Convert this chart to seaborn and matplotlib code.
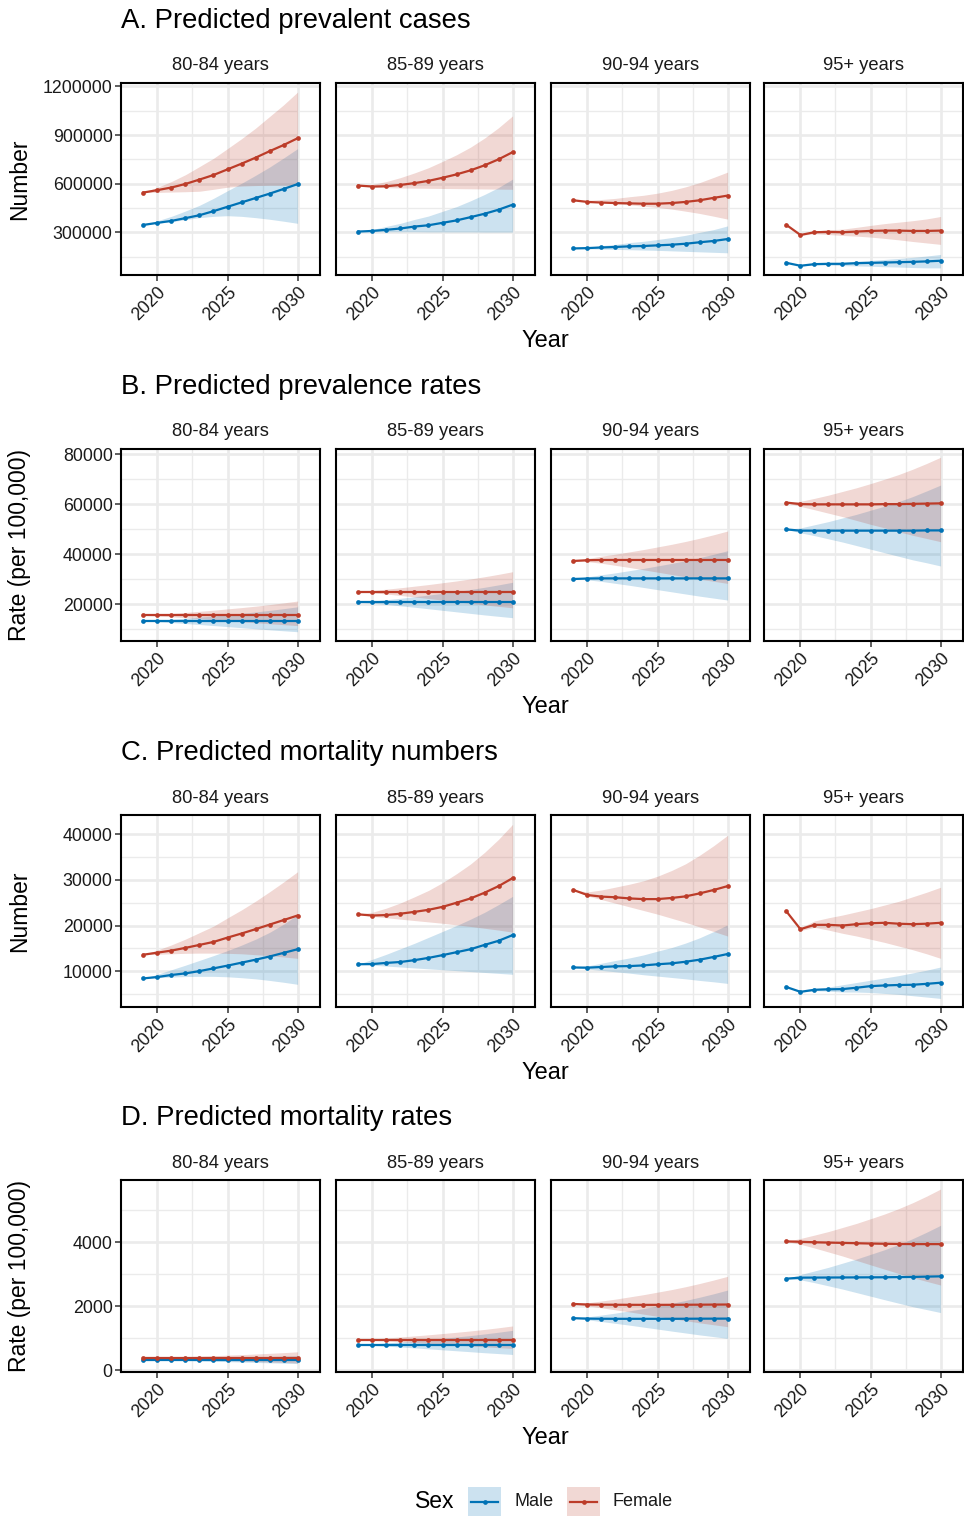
import numpy as np
import pandas as pd
import matplotlib
matplotlib.use("Agg")
import matplotlib.pyplot as plt
import seaborn as sns
from matplotlib.patches import Rectangle
from matplotlib.lines import Line2D

nan = float("nan")

YEARS = [2019, 2020, 2021, 2022, 2023, 2024, 2025, 2026, 2027, 2028, 2029, 2030]
AGES = ["80-84 years", "85-89 years", "90-94 years", "95+ years"]
SEXES = ["Male", "Female"]
PALETTE = {"Male": "#0072B5", "Female": "#BC3C29"}

ROW_TITLES = ["A. Predicted prevalent cases", "B. Predicted prevalence rates",
              "C. Predicted mortality numbers", "D. Predicted mortality rates"]
Y_TITLES = ["Number", "Rate (per 100,000)", "Number", "Rate (per 100,000)"]
Y_TICKS = [[300000, 600000, 900000, 1200000], [20000, 40000, 60000, 80000],
           [10000, 20000, 30000, 40000], [0, 2000, 4000]]
Y_MINOR = [[150000, 450000, 750000, 1050000], [10000, 30000, 50000, 70000],
           [5000, 15000, 25000, 35000], [1000, 3000, 5000]]
Y_LIMS = [(36000, 1221000), (5350, 82000), (2120, 44260), (-54, 5953)]
X_TICKS = [2020, 2025, 2030]
X_MINOR = [2022.5, 2027.5]
# row A values are given in thousands
ROW_SCALE = [1000, 1, 1, 1]

# ---------------- A. Predicted prevalent cases (thousands) ----------------
A80_M = [345, 358, 370, 387, 405, 430, 457, 484, 511, 538, 567, 597]
A80_M_lo = [345, 355, 365, 378, 390, 398, 402, 398, 390, 380, 368, 355]
A80_M_hi = [345, 371, 398, 431, 466, 509, 556, 602, 651, 702, 758, 816]
A80_F = [545, 560, 576, 598, 625, 653, 688, 723, 760, 800, 838, 880]
A80_F_lo = [545, 546, 548, 550, 553, 565, 578, 585, 588, 590, 590, 590]
A80_F_hi = [545, 577, 613, 655, 705, 756, 816, 877, 942, 1014, 1086, 1165]

A85_M = [304, 308, 315, 323, 335, 343, 358, 373, 393, 414, 439, 470]
A85_M_lo = [304, 303, 303, 303, 303, 302, 302, 302, 302, 301, 301, 301]
A85_M_hi = [304, 317, 336, 355, 379, 400, 429, 458, 494, 533, 576, 628]
A85_F = [588, 582, 584, 592, 603, 617, 636, 657, 682, 713, 750, 794]
A85_F_lo = [588, 578, 575, 573, 572, 571, 570, 569, 568, 567, 566, 565]
A85_F_hi = [588, 595, 613, 637, 666, 698, 737, 778, 825, 881, 945, 1018]

A90_M = [200, 202, 206, 209, 213, 215, 219, 223, 229, 238, 246, 258]
A90_M_lo = [200, 198, 196, 194, 192, 190, 188, 185, 182, 179, 176, 173]
A90_M_hi = [200, 207, 217, 225, 236, 244, 255, 267, 281, 299, 316, 339]
A90_F = [497, 487, 483, 480, 478, 476, 476, 480, 487, 497, 512, 526]
A90_F_lo = [497, 490, 483, 476, 469, 461, 453, 443, 430, 416, 399, 381]
A90_F_hi = [497, 496, 502, 509, 519, 528, 541, 558, 580, 606, 638, 671]

A95_M = [111, 93, 103, 105, 105, 109, 111, 113, 115, 117, 120, 124]
A95_M_lo = [nan, 92, 99, 97, 94, 92, 90, 87, 85, 82, 80, 80]
A95_M_hi = [nan, 94, 106, 111, 114, 121, 126, 132, 138, 145, 153, 163]
A95_F = [345, 283, 300, 302, 300, 304, 308, 310, 310, 308, 308, 310]
A95_F_lo = [nan, 280, 291, 286, 280, 276, 270, 262, 253, 243, 234, 225]
A95_F_hi = [nan, 286, 307, 315, 319, 330, 342, 353, 362, 371, 382, 397]

# ---------------- B. Predicted prevalence rates ----------------
B80_M = [13300, 13300, 13300, 13300, 13300, 13300, 13300, 13300, 13300, 13300, 13300, 13300]
B80_M_lo = [13300, 13050, 12710, 12320, 11940, 11520, 11090, 10670, 10240, 9820, 9430, 9050]
B80_M_hi = [13300, 13640, 14040, 14440, 14900, 15350, 15870, 16380, 16950, 17580, 18260, 19000]
B80_F = [15600, 15600, 15600, 15600, 15600, 15600, 15600, 15600, 15600, 15600, 15600, 15600]
B80_F_lo = [15600, 15350, 15030, 14660, 14290, 13880, 13470, 13060, 12650, 12240, 11870, 11500]
B80_F_hi = [15600, 15940, 16340, 16740, 17200, 17650, 18170, 18680, 19250, 19880, 20560, 21300]

B85_M = [20800, 20800, 20800, 20800, 20800, 20800, 20800, 20800, 20800, 20800, 20800, 20800]
B85_M_lo = [20800, 20430, 19940, 19390, 18830, 18220, 17600, 16990, 16370, 15760, 15200, 14650]
B85_M_hi = [20800, 21280, 21840, 22400, 23040, 23680, 24400, 25120, 25920, 26800, 27760, 28800]
B85_F = [25000, 25000, 25000, 25000, 25000, 25000, 25000, 25000, 25000, 25000, 25000, 25000]
B85_F_lo = [25000, 24620, 24100, 23530, 22950, 22310, 21670, 21030, 20390, 19750, 19180, 18600]
B85_F_hi = [25000, 25480, 26040, 26600, 27240, 27880, 28600, 29320, 30120, 31000, 31960, 33000]

B90_M = [30100, 30300, 30350, 30350, 30350, 30350, 30350, 30350, 30350, 30350, 30350, 30350]
B90_M_lo = [30100, 29780, 29140, 28360, 27580, 26720, 25850, 24990, 24120, 23260, 22480, 21700]
B90_M_hi = [30100, 30960, 31790, 32560, 33440, 34330, 35320, 36320, 37420, 38640, 39960, 41400]
B90_F = [37300, 37600, 37700, 37700, 37700, 37700, 37700, 37700, 37700, 37700, 37700, 37700]
B90_F_lo = [37300, 37040, 36390, 35550, 34710, 33770, 32840, 31900, 30970, 30030, 29190, 28350]
B90_F_hi = [37300, 38290, 39200, 40010, 40930, 41860, 42900, 43940, 45090, 46360, 47750, 49250]

B95_M = [49900, 49400, 49400, 49400, 49400, 49400, 49400, 49400, 49400, 49400, 49500, 49500]
B95_M_lo = [49900, 48550, 47410, 46130, 44860, 43440, 42020, 40600, 39180, 37760, 36580, 35300]
B95_M_hi = [49900, 50490, 51750, 53020, 54470, 55920, 57550, 59170, 60980, 62980, 65250, 67600]
B95_F = [60600, 60000, 59900, 59900, 59900, 59900, 59900, 60000, 60000, 60100, 60200, 60300]
B95_F_lo = [60600, 59080, 57760, 56380, 55000, 53470, 51940, 50510, 48980, 47550, 46280, 45000]
B95_F_hi = [60600, 61100, 62290, 63580, 65050, 66520, 68180, 69940, 71780, 73900, 76210, 78700]

# ---------------- C. Predicted mortality numbers ----------------
C80_M = [8400, 8700, 9150, 9500, 10000, 10600, 11200, 11850, 12500, 13200, 14000, 14800]
C80_M_lo = [8400, 8550, 8700, 8800, 8850, 8850, 8750, 8550, 8300, 7950, 7550, 7100]
C80_M_hi = [8400, 9300, 10300, 11300, 12350, 13400, 14500, 15700, 17000, 18500, 20300, 22360]
C80_F = [13600, 14050, 14500, 15100, 15750, 16400, 17350, 18250, 19200, 20200, 21200, 22200]
C80_F_lo = [13600, 13700, 13800, 13900, 13950, 13950, 13900, 13800, 13600, 13400, 13100, 12800]
C80_F_hi = [13600, 14630, 15750, 17020, 18440, 19860, 21670, 23430, 25340, 27400, 29550, 31800]

C85_M = [11500, 11550, 11800, 12000, 12400, 12900, 13500, 14150, 14800, 15750, 16650, 17900]
C85_M_lo = [11500, 11300, 11100, 10900, 10700, 10500, 10300, 10100, 9900, 9700, 9500, 9300]
C85_M_hi = [11500, 12600, 13700, 14900, 16100, 17400, 18700, 20000, 21400, 22900, 24600, 26400]
C85_F = [22450, 22200, 22300, 22600, 23000, 23450, 24100, 25000, 25950, 27200, 28650, 30400]
C85_F_lo = [22450, 22000, 21700, 21400, 21100, 20800, 20500, 20150, 19800, 19400, 19000, 18550]
C85_F_hi = [22450, 22910, 23830, 24960, 26300, 27700, 29410, 31370, 33500, 36050, 38920, 42200]

C90_M = [10800, 10750, 10900, 11050, 11100, 11250, 11500, 11700, 12050, 12500, 13100, 13750]
C90_M_lo = [10800, 10450, 10150, 9850, 9550, 9200, 8900, 8600, 8300, 7950, 7650, 7300]
C90_M_hi = [10800, 11130, 11730, 12330, 12890, 13550, 14380, 15160, 16150, 17300, 18670, 20150]
C90_F = [27800, 26700, 26350, 26200, 25950, 25800, 25800, 26050, 26400, 27050, 27800, 28650]
C90_F_lo = [27800, 26500, 25700, 24900, 24100, 23300, 22500, 21600, 20700, 19700, 18700, 17700]
C90_F_hi = [27800, 27370, 27800, 28430, 29070, 29810, 30820, 32070, 33540, 35410, 37500, 39800]

C95_M = [6500, 5450, 5900, 6000, 6050, 6350, 6700, 6850, 6950, 7000, 7200, 7450]
C95_M_lo = [nan, 5350, 5700, 5600, 5400, 5400, 5300, 5100, 4900, 4600, 4300, 4000]
C95_M_hi = [nan, 5550, 6100, 6500, 7000, 7500, 8000, 8500, 9000, 9600, 10200, 10900]
C95_F = [23100, 19200, 20150, 20150, 20000, 20300, 20500, 20600, 20400, 20300, 20400, 20600]
C95_F_lo = [nan, 18900, 19600, 19000, 18300, 17700, 17000, 16300, 15500, 14700, 13800, 12800]
C95_F_hi = [nan, 19500, 21000, 21700, 22300, 23000, 23700, 24500, 25300, 26300, 27300, 28400]

# ---------------- D. Predicted mortality rates ----------------
D80_M = [336, 336, 336, 336, 336, 336, 336, 336, 336, 336, 336, 336]
D80_M_lo = [336, 328, 318, 307, 296, 283, 270, 258, 245, 233, 221, 210]
D80_M_hi = [336, 343, 352, 361, 371, 381, 392, 403, 415, 429, 444, 460]
D80_F = [387, 387, 387, 387, 387, 387, 387, 387, 387, 387, 387, 387]
D80_F_lo = [387, 378, 365, 351, 337, 321, 305, 290, 274, 258, 244, 230]
D80_F_hi = [387, 398, 412, 425, 440, 455, 473, 490, 509, 530, 552, 577]

D85_M = [797, 797, 797, 797, 797, 797, 797, 797, 797, 797, 797, 797]
D85_M_lo = [797, 779, 755, 728, 700, 670, 640, 610, 580, 549, 522, 495]
D85_M_hi = [797, 824, 856, 888, 924, 960, 1001, 1042, 1087, 1137, 1191, 1250]
D85_F = [955, 955, 955, 955, 955, 955, 955, 955, 955, 955, 955, 955]
D85_F_lo = [955, 939, 917, 893, 868, 841, 814, 787, 760, 733, 708, 684]
D85_F_hi = [955, 981, 1011, 1041, 1076, 1110, 1149, 1188, 1231, 1278, 1330, 1386]

D90_M = [1630, 1616, 1612, 1610, 1610, 1610, 1610, 1610, 1612, 1614, 1615, 1616]
D90_M_lo = [1630, 1579, 1525, 1468, 1412, 1350, 1289, 1227, 1167, 1107, 1053, 998]
D90_M_hi = [1630, 1670, 1728, 1789, 1860, 1932, 2012, 2093, 2184, 2285, 2393, 2510]
D90_F = [2075, 2057, 2052, 2050, 2048, 2047, 2047, 2048, 2050, 2052, 2055, 2057]
D90_F_lo = [2075, 2015, 1955, 1891, 1826, 1756, 1687, 1618, 1551, 1484, 1424, 1364]
D90_F_hi = [2075, 2110, 2167, 2226, 2295, 2365, 2444, 2524, 2614, 2714, 2822, 2939]

D95_M = [2866, 2898, 2900, 2902, 2904, 2906, 2908, 2910, 2915, 2920, 2930, 2939]
D95_M_lo = [2866, 2830, 2741, 2641, 2541, 2430, 2319, 2208, 2099, 1991, 1899, 1806]
D95_M_hi = [2866, 2994, 3107, 3221, 3351, 3481, 3626, 3772, 3936, 4117, 4319, 4535]
D95_F = [4032, 4020, 4005, 3995, 3985, 3975, 3965, 3958, 3952, 3948, 3947, 3947]
D95_F_lo = [4032, 3943, 3826, 3701, 3575, 3437, 3299, 3164, 3030, 2898, 2782, 2667]
D95_F_hi = [4032, 4123, 4229, 4340, 4467, 4595, 4740, 4888, 5055, 5240, 5446, 5670]

SERIES = {
    0: [(A80_M, A80_M_lo, A80_M_hi, A80_F, A80_F_lo, A80_F_hi),
        (A85_M, A85_M_lo, A85_M_hi, A85_F, A85_F_lo, A85_F_hi),
        (A90_M, A90_M_lo, A90_M_hi, A90_F, A90_F_lo, A90_F_hi),
        (A95_M, A95_M_lo, A95_M_hi, A95_F, A95_F_lo, A95_F_hi)],
    1: [(B80_M, B80_M_lo, B80_M_hi, B80_F, B80_F_lo, B80_F_hi),
        (B85_M, B85_M_lo, B85_M_hi, B85_F, B85_F_lo, B85_F_hi),
        (B90_M, B90_M_lo, B90_M_hi, B90_F, B90_F_lo, B90_F_hi),
        (B95_M, B95_M_lo, B95_M_hi, B95_F, B95_F_lo, B95_F_hi)],
    2: [(C80_M, C80_M_lo, C80_M_hi, C80_F, C80_F_lo, C80_F_hi),
        (C85_M, C85_M_lo, C85_M_hi, C85_F, C85_F_lo, C85_F_hi),
        (C90_M, C90_M_lo, C90_M_hi, C90_F, C90_F_lo, C90_F_hi),
        (C95_M, C95_M_lo, C95_M_hi, C95_F, C95_F_lo, C95_F_hi)],
    3: [(D80_M, D80_M_lo, D80_M_hi, D80_F, D80_F_lo, D80_F_hi),
        (D85_M, D85_M_lo, D85_M_hi, D85_F, D85_F_lo, D85_F_hi),
        (D90_M, D90_M_lo, D90_M_hi, D90_F, D90_F_lo, D90_F_hi),
        (D95_M, D95_M_lo, D95_M_hi, D95_F, D95_F_lo, D95_F_hi)],
}

# ---------------- layout ----------------
plt.rcParams["font.family"] = ["Liberation Sans", "DejaVu Sans"]
W, H = 964, 1516
fig = plt.figure(figsize=(W / 100, H / 100), dpi=100)
fig.patch.set_facecolor("white")

PANEL_LEFTS = [121, 336, 551, 764]
PANEL_W, PANEL_H = 199, 192
ROW_TOPS = [83, 449, 815, 1180]
TXT = "#1A1A1A"


def rect(left, top, w, h):
    return [left / W, 1 - (top + h) / H, w / W, h / H]


for r in range(4):
    top = ROW_TOPS[r]
    s = ROW_SCALE[r]
    for c in range(4):
        ax = fig.add_axes(rect(PANEL_LEFTS[c], top, PANEL_W, PANEL_H))
        m, mlo, mhi, f, flo, fhi = SERIES[r][c]
        bands = {"Male": (mlo, mhi), "Female": (flo, fhi)}
        means = {"Male": m, "Female": f}
        for sex in SEXES:
            lo = np.array(bands[sex][0], dtype=float) * s
            hi = np.array(bands[sex][1], dtype=float) * s
            ax.fill_between(YEARS, lo, hi, color=PALETTE[sex], alpha=0.2,
                            linewidth=0, zorder=1)
        df = pd.DataFrame({
            "Year": YEARS * 2,
            "Value": [v * s for v in means["Male"]] + [v * s for v in means["Female"]],
            "Sex": ["Male"] * len(YEARS) + ["Female"] * len(YEARS),
        })
        sns.lineplot(data=df, x="Year", y="Value", hue="Sex", hue_order=SEXES,
                     palette=PALETTE, marker="o", markersize=3.4,
                     markeredgewidth=0, linewidth=1.6, legend=False, ax=ax,
                     zorder=3)
        ax.set_xlim(2017.4, 2031.6)
        ax.set_ylim(*Y_LIMS[r])
        ax.set_xlabel("")
        ax.set_ylabel("")
        ax.set_xticks(X_TICKS)
        ax.set_xticks(X_MINOR, minor=True)
        ax.set_yticks(Y_TICKS[r])
        ax.set_yticks(Y_MINOR[r], minor=True)
        ax.set_xticklabels([str(x) for x in X_TICKS], rotation=45, ha="right",
                           va="top", rotation_mode="anchor")
        ax.set_yticklabels([str(v) for v in Y_TICKS[r]])
        ax.set_axisbelow(True)
        ax.grid(which="major", color="#EBEBEB", linewidth=1.9)
        ax.grid(which="minor", color="#EBEBEB", linewidth=1.0)
        ax.tick_params(which="minor", length=0)
        ax.tick_params(which="major", length=4, width=1.1, color="#333333",
                       labelsize=12.8, labelcolor=TXT, pad=2)
        if c > 0:
            ax.tick_params(axis="y", which="both", length=0, labelleft=False)
        for sp in ax.spines.values():
            sp.set_color("black")
            sp.set_linewidth(1.5)
            sp.set_zorder(5)
        fig.text((PANEL_LEFTS[c] + PANEL_W / 2) / W, 1 - (top - 17) / H,
                 AGES[c], ha="center", va="center", fontsize=13.2, color=TXT)
    fig.text(121 / W, 1 - (top - 62) / H, ROW_TITLES[r], ha="left",
             va="center", fontsize=19.8, color="black")
    fig.text(20 / W, 1 - (top + PANEL_H / 2) / H, Y_TITLES[r], rotation=90,
             ha="center", va="center", fontsize=16.5, color="black")
    fig.text(545 / W, 1 - (top + PANEL_H + 66) / H, "Year", ha="center",
             va="center", fontsize=17, color="black")

# ---------------- legend ----------------
fig.text(435 / W, 1 - 1502 / H, "Sex", ha="center", va="center",
         fontsize=16.5, color="black")
legend_items = [("Male", 468, 514), ("Female", 567, 613)]
for sex, kx, tx in legend_items:
    fig.patches.append(Rectangle((kx / W, 1 - 1516 / H), 33 / W, 29 / H,
                                 transform=fig.transFigure,
                                 facecolor=PALETTE[sex], alpha=0.2,
                                 linewidth=0))
    fig.lines.append(Line2D([(kx + 3) / W, (kx + 30) / W],
                            [1 - 1502 / H, 1 - 1502 / H],
                            transform=fig.transFigure, color=PALETTE[sex],
                            linewidth=1.6))
    fig.lines.append(Line2D([(kx + 16.5) / W], [1 - 1502 / H],
                            transform=fig.transFigure, color=PALETTE[sex],
                            marker="o", markersize=3.4, markeredgewidth=0,
                            linestyle="none"))
    fig.text(tx / W, 1 - 1502 / H, sex, ha="left", va="center",
             fontsize=13, color=TXT)

fig.savefig("out.png", dpi=100, facecolor="white")
